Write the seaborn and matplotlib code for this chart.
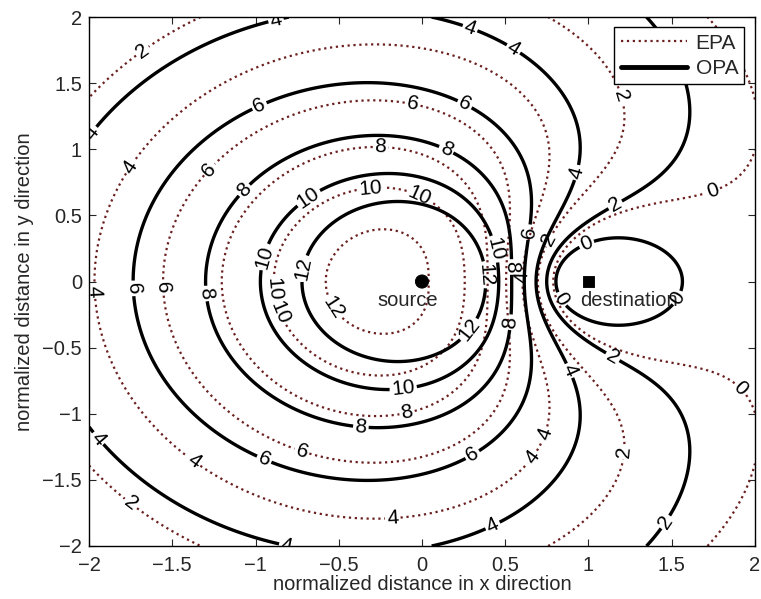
import numpy as np
import pandas as pd
import matplotlib
matplotlib.use("Agg")
import matplotlib.pyplot as plt
from matplotlib.lines import Line2D
import seaborn as sns

# --------------------------------------------------------------------
# Data
# --------------------------------------------------------------------
node_names = ["source", "destination"]
node_x = [0.0, 1.0]
node_y = [0.0, 0.0]

# contour levels (dB) drawn for both power allocation schemes
levels_opa = [0, 2, 4, 6, 8, 10, 12]
levels_epa = [0, 2, 4, 6, 8, 10, 12]

# SINR-type field  Ps / ((d_s^a + h1) * (1 + Pj / (d_d^b + h2))),
# parameters fitted to the contour crossings
opa_params = {"a": 2.10, "b": 1.33, "h1": 0.05, "h2": 0.00, "ps": 28.526, "pj": 4.642}
epa_params = {"a": 2.50, "b": 2.00, "h1": 0.30, "h2": 0.10, "ps": 19.5, "pj": 3.162}

# label positions (approximate)
opa_label_pos = [(-1.95, 1.09), (-0.87, 1.94), (0.29, 1.92), (0.55, 1.76), (-0.97, 1.31),
                 (0.28, 1.40), (-1.05, 0.67), (0.125, 0.94), (-0.68, 0.63), (0.42, 0.24),
                 (0.37, 0.05), (-0.68, 0.09), (-0.93, 0.18), (-1.29, -0.09), (-1.70, -0.05),
                 (-1.92, -1.16), (-0.81, -1.98), (-0.95, -1.35), (-0.37, -1.14),
                 (-0.11, -0.84), (0.29, -0.37), (0.55, -0.31), (0.33, -1.37),
                 (0.93, -0.65), (0.43, -1.86), (1.15, -0.56), (1.44, -1.80),
                 (0.83, -0.14), (1.58, -0.16), (1.0, 0.80), (1.17, 0.56), (0.98, 0.31),
                 (0.66, 0.37), (0.55, 0.11)]
epa_label_pos = [(-1.78, 1.92), (-1.72, 0.84), (-0.05, 1.39), (-1.195, 0.75), (-0.25, 0.97),
                 (-0.04, 0.58), (-0.30, 0.56), (-1.405, -0.04), (-1.93, -0.07),
                 (-1.03, -0.07), (-0.745, -0.18), (-0.51, -0.18), (-1.37, -1.36),
                 (-1.86, -1.86), (-0.70, -1.20), (-0.09, -0.99), (0.54, -1.21),
                 (0.89, -1.22), (-0.17, -1.90), (1.33, -1.30), (1.88, -0.85),
                 (1.31, 1.45), (1.75, 0.67), (0.73, 0.34), (0.62, 0.03)]

tick_vals = [-2, -1.5, -1, -0.5, 0, 0.5, 1, 1.5, 2]
tick_text = ["\u22122", "\u22121.5", "\u22121", "\u22120.5", "0", "0.5", "1", "1.5", "2"]

# --------------------------------------------------------------------
# Build the fields on a grid
# --------------------------------------------------------------------
gx = np.linspace(-2, 2, 600)
gy = np.linspace(-2, 2, 600)
X, Y = np.meshgrid(gx, gy)
d_src = np.hypot(X - node_x[0], Y - node_y[0])
d_dst = np.hypot(X - node_x[1], Y - node_y[1])


def field(p):
    sig = p["ps"] / (d_src ** p["a"] + p["h1"])
    jam = 1 + p["pj"] / (d_dst ** p["b"] + p["h2"])
    return 10 * np.log10(sig / jam)


Z_opa = field(opa_params)
Z_epa = field(epa_params)

# --------------------------------------------------------------------
# Plot
# --------------------------------------------------------------------
sns.set_theme(style="white")
plt.rcParams["font.family"] = ["Liberation Sans", "DejaVu Sans"]
plt.rcParams["font.size"] = 14.5

fig = plt.figure(figsize=(7.61, 5.99), dpi=100)
ax = fig.add_axes([0.117, 0.0885, 0.875, 0.883])

epa_color = "#6b1f1f"
cs_epa = ax.contour(X, Y, Z_epa, levels=levels_epa, colors=epa_color,
                    linestyles=":", linewidths=1.6)
cs_opa = ax.contour(X, Y, Z_opa, levels=levels_opa, colors="black",
                    linestyles="-", linewidths=2.4)
ax.clabel(cs_epa, fmt="%d", fontsize=15, colors="black", inline=True,
          inline_spacing=2, manual=epa_label_pos)
ax.clabel(cs_opa, fmt="%d", fontsize=15, colors="black", inline=True,
          inline_spacing=2, manual=opa_label_pos)

nodes = pd.DataFrame({"node": node_names, "x": node_x, "y": node_y})
sns.scatterplot(data=nodes, x="x", y="y", style="node",
                markers={"source": "o", "destination": "s"},
                size="node", sizes={"source": 90, "destination": 60},
                color="black", edgecolor="black", legend=False, ax=ax, zorder=5)
ax.text(-0.27, -0.14, "source", fontsize=14.5, va="center", ha="left")
ax.text(0.95, -0.14, "destination", fontsize=14.5, va="center", ha="left")

ax.set_xlim(-2, 2)
ax.set_ylim(-2, 2)
ax.set_xticks(tick_vals)
ax.set_yticks(tick_vals)
ax.set_xticklabels(tick_text)
ax.set_yticklabels(tick_text)
ax.tick_params(direction="in", length=5, width=0.8, labelsize=14.5, top=True, right=True,
               bottom=True, left=True)
ax.tick_params(axis="x", pad=7)
ax.tick_params(axis="y", pad=5)
for sp in ax.spines.values():
    sp.set_color("black")
    sp.set_linewidth(1.0)
ax.set_xlabel("normalized distance in x direction", fontsize=14.5, labelpad=0)
ax.set_ylabel("normalized distance in y direction", fontsize=14.5, labelpad=6)

handles = [Line2D([], [], color=epa_color, linestyle=":", linewidth=1.6),
           Line2D([], [], color="black", linestyle="-", linewidth=3.5)]
leg = ax.legend(handles, ["EPA", "OPA"], loc="upper right", fontsize=15,
                frameon=True, fancybox=False, framealpha=1, edgecolor="black",
                handlelength=3.2, borderpad=0.3, labelspacing=0.3,
                handletextpad=0.4, borderaxespad=0.5)
leg.get_frame().set_linewidth(1.0)

fig.savefig("out.png", dpi=100)
